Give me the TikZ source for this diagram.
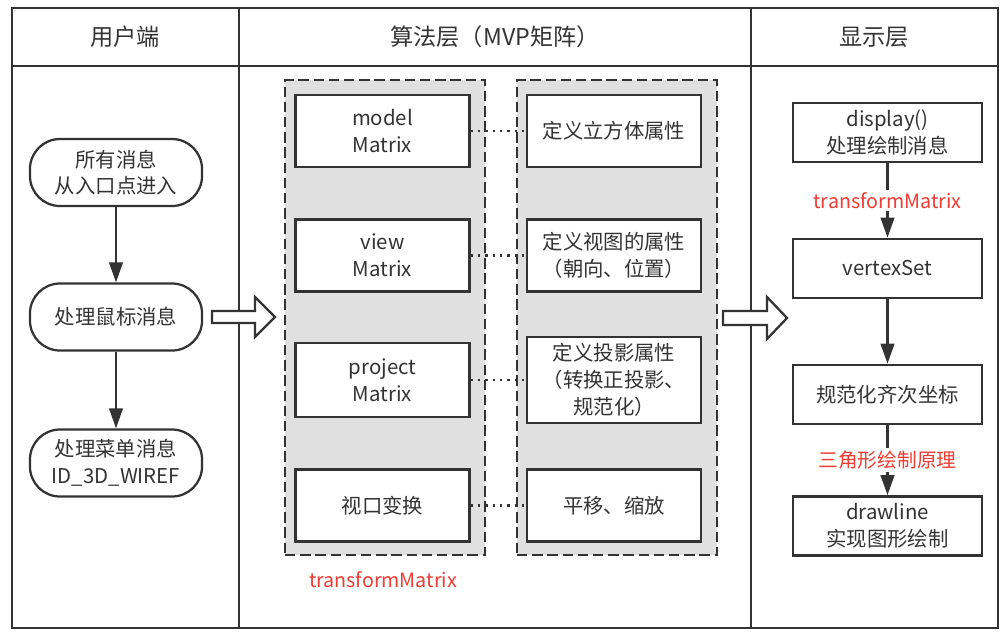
\documentclass[tikz,border=0pt]{standalone}
\usepackage{fontspec}
\setmainfont{Noto Sans CJK SC}
\usetikzlibrary{arrows.meta, calc}

\definecolor{linegray}{HTML}{333333}
\definecolor{groupgray}{HTML}{E0E0E0}
\definecolor{labelred}{HTML}{F03C32}

\tikzset{
	basefont/.style={text=linegray, font=\fontsize{14.5}{19}\selectfont, align=center},
	headtext/.style={basefont, font=\fontsize{16.5}{20}\selectfont},
	msgnode/.style={basefont, draw=linegray, line width=1.6pt, rounded corners=0.75cm, minimum width=4.3cm, minimum height=1.675cm, inner sep=0pt},
	matbox/.style={basefont, draw=linegray, line width=1.9pt, fill=white, minimum width=4.35cm, minimum height=1.8cm, inner sep=0pt},
	dispbox/.style={basefont, draw=linegray, line width=1.9pt, minimum width=4.725cm, minimum height=1.475cm, inner sep=0pt},
	groupbox/.style={draw=linegray, fill=groupgray, line width=2pt, dash pattern=on 0.26cm off 0.12cm, minimum width=5cm, minimum height=11.875cm, inner sep=0pt},
	redlabel/.style={basefont, text=labelred, font=\fontsize{14}{16}\selectfont, fill=white, inner sep=2pt},
	flow/.style={draw=linegray, line width=1.6pt, -{Triangle[length=0.5cm, width=0.34cm]}},
	link/.style={draw=linegray, line width=1.9pt, dash pattern=on 1.6pt off 3.6pt},
	bigarrow/.style={draw=linegray, line width=1.6pt, fill=white, line join=miter}
}

\begin{document}
\begin{tikzpicture}[x=0.025cm, y=-0.025cm]
		\useasboundingbox (0,0) rectangle (1006,634);

		% frame and columns
		\draw[linegray, line width=1.6pt] (12,8) rectangle (998,628);
		\draw[linegray, line width=1.6pt] (12,66) -- (998,66);
		\draw[linegray, line width=1.6pt] (239,8) -- (239,628);
		\draw[linegray, line width=1.6pt] (751,8) -- (751,628);

		\node[headtext] (hclient) at (125,37) {用户端};
		\node[headtext] (halgo) at (495,37) {算法层（MVP矩阵）};
		\node[headtext] (hdisp) at (874,37) {显示层};

		% user side
		\node[msgnode] (allmsg) at (116,172.5) {所有消息\\从入口点进入};
		\node[msgnode] (mouse) at (116,317) {处理鼠标消息};
		\node[msgnode] (menu) at (116,463) {处理菜单消息\\ID\_3D\_WIREF};

		\draw[flow] (allmsg) -- (mouse);
		\draw[flow] (mouse) -- (menu);

		% algorithm layer
		\node[groupbox] (matgrp) at (385,317.5) {};
		\node[groupbox] (descgrp) at (617,317.5) {};

		\node[matbox] (model) at (382.5,131) {model\\Matrix};
		\node[matbox] (view) at (382.5,255.5) {view\\Matrix};
		\node[matbox, minimum height=1.85cm] (project) at (382.5,380) {project\\Matrix};
		\node[matbox] (viewport) at (382.5,505.5) {视口变换};

		\node[matbox] (modeldesc) at (614,131) {定义立方体属性};
		\node[matbox] (viewdesc) at (614,255.5) {定义视图的属性\\（朝向、位置）};
		\node[matbox, minimum height=2.15cm] (projdesc) at (614,380) {定义投影属性\\（转换正投影、\\规范化）};
		\node[matbox] (portdesc) at (614,505.5) {平移、缩放};

		\draw[link] (model) -- (modeldesc);
		\draw[link] (view) -- (viewdesc);
		\draw[link] (project) -- (projdesc);
		\draw[link] (viewport) -- (portdesc);

		\node[redlabel] (algtm) at (383,580) {transformMatrix};

		% hollow arrows between columns
		\draw[bigarrow] (212,311) -- (255,311) -- (255,297) -- (275,317) -- (255,337) -- (255,323) -- (212,323) -- cycle;
		\draw[bigarrow] (723,311) -- (767,311) -- (767,297) -- (787,318) -- (767,339) -- (767,325) -- (723,325) -- cycle;

		% display layer
		\node[dispbox] (display) at (887.5,132.5) {display()\\处理绘制消息};
		\node[dispbox] (vertex) at (887.5,268.5) {vertexSet};
		\node[dispbox] (homog) at (887.5,394.5) {规范化齐次坐标};
		\node[dispbox] (drawline) at (887.5,526) {drawline\\实现图形绘制};

		\draw[flow] (display) -- (vertex) node[redlabel, midway] (disptm) {transformMatrix};
		\draw[flow] (vertex) -- (homog);
		\draw[flow] (homog) -- (drawline) node[redlabel, midway] (tri) {三角形绘制原理};
	\end{tikzpicture}
\end{document}
